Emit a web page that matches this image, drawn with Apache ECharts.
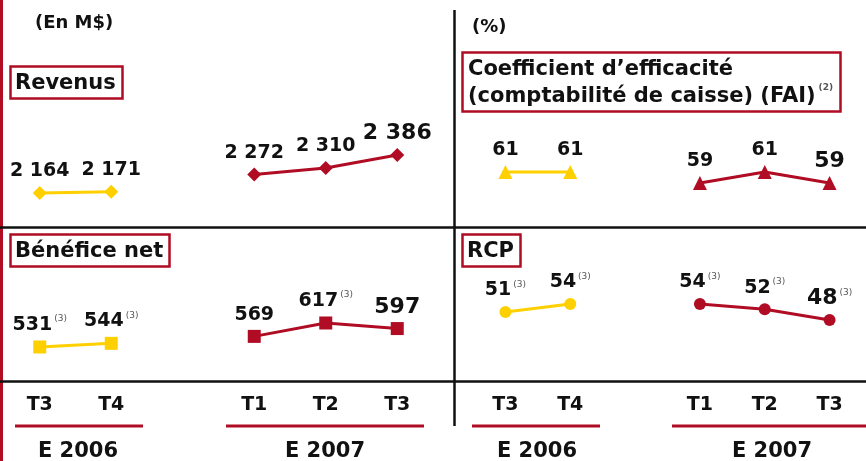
<!DOCTYPE html>
<html>
<head>
<meta charset="utf-8">
<script src="https://cdn.jsdelivr.net/npm/echarts@6/dist/echarts.min.js"></script>
<style>
  html, body { margin: 0; padding: 0; background: #fff; }
  #chart { width: 866px; height: 461px; }
</style>
</head>
<body>
<div id="chart"></div>
<script>
// quarters on each panel; the empty slot separates the two years
var quarters = ["T3", "T4", "", "T1", "T2", "T3"];
var years = ["E 2006", "E 2007"];

var revenus2006 = [2164, 2171, null, null, null, null];
var revenus2007 = [null, null, null, 2272, 2310, 2386];
var coef2006 = [61, 61, null, null, null, null];
var coef2007 = [null, null, null, 59, 61, 59];
var benefice2006 = [531, 544, null, null, null, null];
var benefice2007 = [null, null, null, 569, 617, 597];
var rcp2006 = [51, 54, null, null, null, null];
var rcp2007 = [null, null, null, 54, 52, 48];

var noNotes = ["", "", "", "", "", ""];
var beneficeNotes = ["(3)", "(3)", "", "", "(3)", ""];
var rcpNotes = ["(3)", "(3)", "", "(3)", "(3)", "(3)"];

var YELLOW = "#FFD000";
var RED = "#B00C24";
var FONT = "DejaVu Sans";

var chart = echarts.init(document.getElementById("chart"), null, { renderer: "canvas" });

function fmt(v) {
  return String(v).replace(/\B(?=(\d{3})+(?!\d))/g, " ");
}

var rich = {
  n: { fontFamily: FONT, fontSize: 19, fontWeight: "bold", color: "#111", lineHeight: 19 },
  b: { fontFamily: FONT, fontSize: 22, fontWeight: "bold", color: "#111", lineHeight: 20 },
  s: { fontFamily: FONT, fontSize: 9, color: "#555", verticalAlign: "top", padding: [0, 0, 12, 2] }
};

function makeSeries(idx, data, color, symbol, size, notes) {
  return {
    type: "line",
    xAxisIndex: idx,
    yAxisIndex: idx,
    data: data,
    symbol: symbol,
    symbolSize: size,
    itemStyle: { color: color },
    lineStyle: { color: color, width: 3 },
    animation: false,
    label: {
      show: true,
      position: "top",
      distance: 5,
      formatter: function (p) {
        var style = p.dataIndex === 5 ? "b" : "n";
        var txt = "{" + style + "|" + fmt(p.value) + "}";
        if (notes[p.dataIndex]) txt += "{s|" + notes[p.dataIndex] + "}";
        return txt;
      },
      rich: rich
    }
  };
}

// grids: 0 revenus, 1 coefficient, 2 bénéfice, 3 rcp
var grids = [
  { left: 4, width: 429, top: 120, height: 107 },
  { left: 473, width: 389, top: 120, height: 107 },
  { left: 4, width: 429, top: 270, height: 111 },
  { left: 473, width: 389, top: 270, height: 111 }
];
var ranges = [[1965, 2590], [51, 70.45], [409, 807], [25.2, 66.7]];

var xAxes = grids.map(function (g, i) {
  return {
    type: "category",
    gridIndex: i,
    data: quarters,
    boundaryGap: true,
    axisLine: { show: false },
    axisTick: { show: false },
    axisLabel: {
      show: i >= 2,
      margin: 15,
      fontFamily: FONT,
      fontSize: 19,
      fontWeight: "bold",
      color: "#111"
    }
  };
});
var yAxes = ranges.map(function (r, i) {
  return { type: "value", gridIndex: i, min: r[0], max: r[1], show: false };
});

var titleStyle = { fontFamily: FONT, fontSize: 21, fontWeight: "bold", color: "#111" };
function boxTitle(text, left, top, pad) {
  return {
    text: text,
    left: left,
    top: top,
    padding: pad,
    borderColor: RED,
    borderWidth: 2.5,
    textStyle: Object.assign({}, titleStyle, {
      lineHeight: 27,
      rich: { s: { fontFamily: FONT, fontSize: 9, color: "#555", verticalAlign: "top", padding: [0, 0, 12, 3] } }
    })
  };
}

function hLine(x1, x2, y, color, w) {
  return { type: "line", shape: { x1: x1, y1: y, x2: x2, y2: y }, style: { stroke: color, lineWidth: w }, silent: true };
}
function yearText(text, x) {
  return {
    type: "text", x: x, y: 452,
    style: { text: text, fontFamily: FONT, fontSize: 21, fontWeight: "bold", fill: "#111", align: "center", verticalAlign: "middle" }
  };
}

chart.setOption({
  backgroundColor: "#fff",
  title: [
    { text: "(En M$)", left: 35, top: 14, padding: 0, textStyle: Object.assign({}, titleStyle, { fontSize: 18 }) },
    { text: "(%)", left: 472, top: 18, padding: 0, textStyle: Object.assign({}, titleStyle, { fontSize: 18 }) },
    boxTitle("Revenus", 10, 66, [4, 7, 2, 5]),
    boxTitle("Coefficient d’efficacité\n(comptabilité de caisse) (FAI){s|(2)}", 462, 52, [4, 8, 2, 6]),
    boxTitle("Bénéfice net", 10, 234, [4, 7, 2, 5]),
    boxTitle("RCP", 462, 234, [4, 7, 2, 5])
  ],
  grid: grids,
  xAxis: xAxes,
  yAxis: yAxes,
  series: [
    makeSeries(0, revenus2006, YELLOW, "diamond", 14, noNotes),
    makeSeries(0, revenus2007, RED, "diamond", 14, noNotes),
    makeSeries(1, coef2006, YELLOW, "triangle", 14, noNotes),
    makeSeries(1, coef2007, RED, "triangle", 14, noNotes),
    makeSeries(2, benefice2006, YELLOW, "rect", 13, beneficeNotes),
    makeSeries(2, benefice2007, RED, "rect", 13, beneficeNotes),
    makeSeries(3, rcp2006, YELLOW, "circle", 12, rcpNotes),
    makeSeries(3, rcp2007, RED, "circle", 12, rcpNotes)
  ],
  graphic: [
    { type: "rect", shape: { x: 0, y: 0, width: 3, height: 461 }, style: { fill: RED }, silent: true },
    hLine(0, 866, 227.5, "#111", 2.5),
    hLine(0, 866, 381.5, "#111", 2.5),
    { type: "line", shape: { x1: 454.5, y1: 10, x2: 454.5, y2: 426 }, style: { stroke: "#111", lineWidth: 2.5 }, silent: true },
    hLine(15, 143, 426, RED, 3),
    hLine(226, 424, 426, RED, 3),
    hLine(472, 600, 426, RED, 3),
    hLine(672, 866, 426, RED, 3),
    yearText(years[0], 78),
    yearText(years[1], 325),
    yearText(years[0], 537),
    yearText(years[1], 772)
  ]
});
</script>
</body>
</html>
